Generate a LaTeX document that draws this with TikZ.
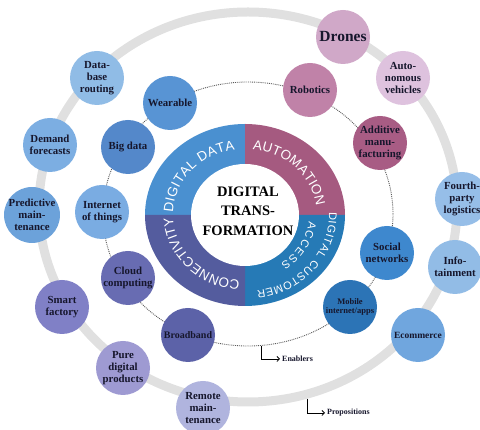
\documentclass[tikz,border=0pt]{standalone}
\usepackage{fontspec}
\setmainfont{Liberation Serif}
\newfontfamily\ringsans{Liberation Sans}
\usepackage{xcolor}
\usepackage{tikz}
\usetikzlibrary{decorations.text, arrows.meta}
\definecolor{ddblock}{RGB}{74, 144, 208}
\definecolor{aublock}{RGB}{165, 90, 128}
\definecolor{dcblock}{RGB}{38, 122, 182}
\definecolor{coblock}{RGB}{84, 92, 158}
\definecolor{labelink}{RGB}{22, 22, 44}
\definecolor{dotgray}{RGB}{90, 90, 90}
\definecolor{ringgray}{RGB}{224, 224, 224}
\definecolor{cwearable}{RGB}{88, 148, 212}
\definecolor{cbigdata}{RGB}{84, 136, 202}
\definecolor{ciot}{RGB}{122, 172, 226}
\definecolor{ccloud}{RGB}{104, 108, 178}
\definecolor{cbroadband}{RGB}{92, 98, 168}
\definecolor{cmobile}{RGB}{44, 116, 182}
\definecolor{csocial}{RGB}{62, 136, 206}
\definecolor{cadditive}{RGB}{168, 92, 132}
\definecolor{crobotics}{RGB}{192, 130, 168}
\definecolor{cdrones}{RGB}{208, 168, 200}
\definecolor{cautonomous}{RGB}{222, 194, 222}
\definecolor{cfourth}{RGB}{150, 190, 232}
\definecolor{cinfo}{RGB}{146, 188, 230}
\definecolor{cecommerce}{RGB}{112, 166, 222}
\definecolor{cremote}{RGB}{176, 180, 222}
\definecolor{cpure}{RGB}{158, 154, 210}
\definecolor{csmart}{RGB}{128, 128, 198}
\definecolor{cpredictive}{RGB}{108, 162, 218}
\definecolor{cdemand}{RGB}{124, 174, 226}
\definecolor{cdatabase}{RGB}{144, 188, 230}
\newcommand\ringfont{\ringsans\fontsize{13.5}{13.5}\selectfont}
\newcommand\ringsmall{\ringsans\fontsize{11}{11}\selectfont}

\begin{document}
\begin{tikzpicture}[x=1pt, y=1pt,
	bubble/.style={circle, minimum size=54, inner sep=0pt, align=center, text=labelink,
		font=\bfseries\fontsize{10.8}{11.7}\selectfont},
	enabline/.style={densely dotted, line width=0.9pt, draw=dotgray},
	propline/.style={line width=9pt, draw=ringgray},
	legend/.style={inner sep=2pt, text=labelink, font=\bfseries\fontsize{8}{8}\selectfont},
	legarrow/.style={line width=0.8pt, -{Straight Barb[length=2.5pt, width=5pt]}},
	ringtext/.style={decorate, decoration={text along path, text align=fit to path, text color=white, text={#1}}}]
			\clip (0, 0) rectangle (480, 430);
			\def\rxo{100}
			\def\ryo{91}
			\def\rxi{54}
			\def\ryi{51}

			\draw[propline] (248, 223) ellipse[x radius=209, y radius=195];
			\draw[enabline] (248, 216) ellipse[x radius=145, y radius=132];

			\coordinate (dtc) at (245, 215);
			\fill[ddblock] (dtc) -- ++(180:{\rxo} and {\ryo}) arc[start angle=180, end angle=90, x radius=\rxo, y radius=\ryo] -- cycle;
			\fill[aublock] (dtc) -- ++(90:{\rxo} and {\ryo}) arc[start angle=90, end angle=0, x radius=\rxo, y radius=\ryo] -- cycle;
			\fill[dcblock] (dtc) -- ++(0:{\rxo} and {\ryo}) arc[start angle=0, end angle=-90, x radius=\rxo, y radius=\ryo] -- cycle;
			\fill[coblock] (dtc) -- ++(270:{\rxo} and {\ryo}) arc[start angle=270, end angle=180, x radius=\rxo, y radius=\ryo] -- cycle;
			\fill[white] (dtc) ellipse[x radius=\rxi, y radius=\ryi];

			\path[ringtext={|\ringfont|DIGITAL DATA}] ([shift={(178:72 and 66)}]dtc) arc[start angle=178, end angle=98, x radius=72, y radius=66];
			\path[ringtext={|\ringfont|AUTOMATION}] ([shift={(84:72 and 66)}]dtc) arc[start angle=84, end angle=8, x radius=72, y radius=66];
			\path[ringtext={|\ringfont|CONNECTIVITY}] ([shift={(266:72 and 66)}]dtc) arc[start angle=266, end angle=182, x radius=72, y radius=66];
			\path[ringtext={|\ringsmall|DIGITAL CUSTOMER}] ([shift={(2:84 and 77)}]dtc) arc[start angle=2, end angle=-82, x radius=84, y radius=77];
			\path[ringtext={|\ringsmall|ACCESS}] ([shift={(-6:64 and 59)}]dtc) arc[start angle=-6, end angle=-56, x radius=64, y radius=59];

			\node[align=center, text=black, font=\bfseries\fontsize{14.5}{19.5}\selectfont] (dtcenter) at (248, 219) {DIGITAL\\TRANS-\\FORMATION};

			\node[bubble, fill=cwearable] (wearable) at (170, 327) {Wearable};
			\node[bubble, fill=cbigdata] (bigdata) at (128, 283) {Big data};
			\node[bubble, fill=ciot] (iot) at (102, 218) {Internet\\of things};
			\node[bubble, fill=ccloud] (cloud) at (128, 152) {Cloud\\computing};
			\node[bubble, fill=cbroadband, font=\bfseries\fontsize{10}{11}\selectfont] (broadband) at (188, 95) {Broadband};
			\node[bubble, fill=cmobile, font=\bfseries\fontsize{8.5}{9.5}\selectfont] (mobile) at (350, 123) {Mobile\\internet/apps};
			\node[bubble, fill=csocial] (social) at (387, 177) {Social\\networks};
			\node[bubble, fill=cadditive] (additive) at (380, 287) {Additive\\manu-\\facturing};
			\node[bubble, fill=crobotics] (robotics) at (310, 340) {Robotics};

			\node[bubble, fill=cdrones, font=\bfseries\fontsize{15.5}{16}\selectfont] (drones) at (343, 393) {Drones};
			\node[bubble, fill=cautonomous] (autonomous) at (403, 352) {Auto-\\nomous\\vehicles};
			\node[bubble, fill=cfourth] (fourthparty) at (462, 231) {Fourth-\\party\\logistics};
			\node[bubble, fill=cinfo] (infotainment) at (455, 163) {Info-\\tainment};
			\node[bubble, fill=cecommerce, font=\bfseries\fontsize{9.5}{10.5}\selectfont] (ecommerce) at (418, 95) {Ecommerce};
			\node[bubble, fill=cremote] (remote) at (203, 22) {Remote\\main-\\tenance};
			\node[bubble, fill=cpure] (puredigital) at (123, 62) {Pure\\digital\\products};
			\node[bubble, fill=csmart] (smartfactory) at (62, 123) {Smart\\factory};
			\node[bubble, fill=cpredictive] (predictive) at (32, 215) {Predictive\\main-\\tenance};
			\node[bubble, fill=cdemand] (demand) at (50, 285) {Demand\\forecasts};
			\node[bubble, fill=cdatabase] (database) at (97, 352) {Data-\\base\\routing};

			\coordinate (enbase) at (261, 84);
			\node[legend, anchor=west] (enablers) at (280, 71) {Enablers};
			\draw[legarrow] (enbase) |- (enablers);
			\coordinate (prbase) at (307, 31);
			\node[legend, anchor=west] (propositions) at (325, 17) {Propositions};
			\draw[legarrow] (prbase) |- (propositions);

		\end{tikzpicture}
\end{document}
